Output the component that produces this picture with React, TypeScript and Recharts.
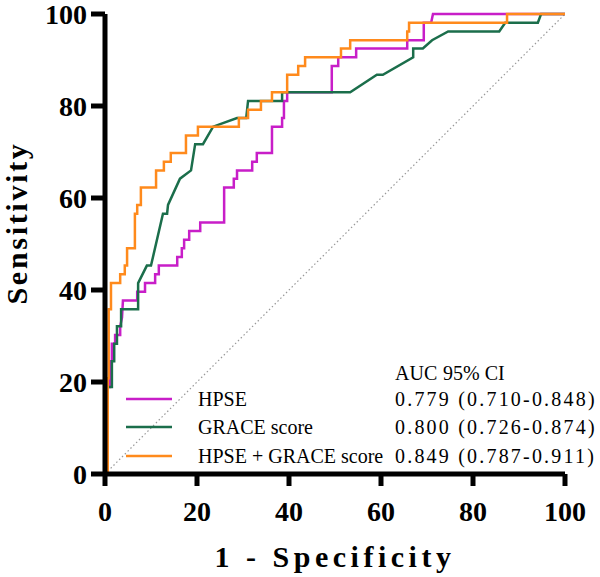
import { LineChart, Line, XAxis, YAxis, ReferenceLine } from "recharts";

const FONT = '"Liberation Serif", "Times New Roman", serif';

const xTicks = [0, 20, 40, 60, 80, 100];
const yTicks = [0, 20, 40, 60, 80, 100];

// ROC step points: [1 - specificity, sensitivity]
const hpsePts: [number, number][] = [
  [0, 0], [0, 13.2], [0.5, 13.2], [0.5, 18.9], [1.1, 18.9], [1.1, 24.5], [1.5, 24.5],
  [1.5, 28.3], [2.2, 28.3], [2.2, 30.2], [3.3, 30.2], [3.3, 32.1], [3.7, 34.0], [3.9, 37.7],
  [7.0, 37.7], [7.0, 39.6], [8.7, 39.6], [8.7, 41.5], [10.9, 41.5], [10.9, 43.4], [11.7, 43.4],
  [11.7, 45.3], [15.7, 45.3], [15.7, 47.2], [16.7, 47.2], [16.7, 49.1], [17.2, 49.1], [17.2, 50.9],
  [18.3, 50.9], [18.3, 52.8], [20.7, 52.8], [20.7, 54.7], [25.9, 54.7], [25.9, 62.3], [28.0, 62.3],
  [28.0, 64.2], [28.7, 64.2], [28.7, 66.0], [32.0, 66.0], [32.0, 67.9], [33.0, 67.9], [33.0, 69.8],
  [36.3, 69.8], [36.3, 75.5], [38.5, 75.5], [38.5, 77.4], [38.9, 77.4], [38.9, 81.1], [39.6, 81.1],
  [39.6, 83.0], [49.3, 83.0], [49.3, 88.7], [50.7, 88.7], [50.7, 90.6], [54.6, 90.6], [54.6, 92.5],
  [65.7, 92.5], [65.7, 94.3], [69.3, 94.3], [69.3, 98.1], [70.9, 98.1], [71.3, 100], [100, 100],
];

const gracePts: [number, number][] = [
  [0, 0], [0, 9.4], [0.6, 9.4], [0.6, 18.9], [1.5, 18.9], [1.5, 24.5], [2.0, 24.5], [2.0, 28.3],
  [2.6, 28.3], [2.6, 32.1], [3.5, 32.1], [3.5, 35.8], [7.2, 35.8], [7.2, 41.5], [9.1, 45.3],
  [10.0, 45.3], [12.6, 56.6], [13.5, 56.6], [13.7, 58.5], [16.3, 64.2], [18.7, 66.0], [19.6, 71.7],
  [21.3, 71.7], [23.5, 75.5], [28.7, 77.4], [30.7, 77.4], [31.1, 81.1], [38.5, 81.1], [38.5, 83.0],
  [53.3, 83.0], [59.1, 86.8], [60.4, 86.8], [67.0, 90.6], [67.0, 92.5], [69.1, 92.5], [71.1, 94.3],
  [74.6, 96.2], [85.7, 96.2], [87.0, 98.1], [94.1, 98.1], [94.8, 100], [100, 100],
];

const comboPts: [number, number][] = [
  [0.6, 0], [0.6, 20.8], [0.8, 20.8], [0.8, 35.8], [1.3, 35.8], [1.3, 41.5], [3.3, 41.5], [3.3, 43.4],
  [4.3, 43.4], [4.3, 45.3], [4.8, 45.3], [4.8, 49.1], [6.5, 49.1], [6.5, 56.6], [7.0, 56.6],
  [7.0, 58.5], [7.8, 58.5], [7.8, 62.3], [11.1, 62.3], [11.1, 66.0], [12.8, 66.0], [12.8, 67.9],
  [14.3, 67.9], [14.3, 69.8], [17.6, 69.8], [17.6, 73.6], [20.2, 73.6], [20.2, 75.5], [29.1, 75.5],
  [29.1, 77.4], [31.1, 77.4], [31.1, 79.2], [33.9, 79.2], [33.9, 81.1], [36.3, 81.1], [36.3, 83.0],
  [39.6, 83.0], [39.6, 86.8], [42.0, 86.8], [42.0, 88.7], [43.5, 88.7], [43.5, 90.6], [51.3, 90.6],
  [51.3, 92.5], [53.3, 92.5], [53.3, 94.3], [65.7, 94.3], [65.7, 96.2], [66.1, 96.2], [66.1, 98.1],
  [87.4, 98.1], [87.4, 100], [100, 100],
];

const seriesNames = ["HPSE", "GRACE score", "HPSE + GRACE score"];
const aucText = ["0.779 (0.710-0.848)", "0.800 (0.726-0.874)", "0.849 (0.787-0.911)"];
const COLORS = ["#c81ec8", "#1b6e4b", "#ff8a1c"];

const toRows = (pts: [number, number][]) => pts.map(([x, y]) => ({ x, y }));

const tickStyle = { fontSize: 28, fontWeight: "bold", fill: "#000", fontFamily: FONT };
const axisStroke = { stroke: "#000", strokeWidth: 5 };

export default function App() {
  const rowY = [399, 427, 456];
  return (
    <div style={{ position: "absolute", left: 0, top: 0, width: 600, height: 577, background: "#fff" }}>
      <LineChart width={600} height={577} margin={{ top: 14, right: 35, bottom: 0, left: 0 }}>
        <XAxis dataKey="x" type="number" domain={[0, 100]} ticks={xTicks}
               axisLine={axisStroke} tickLine={axisStroke} tickSize={12} tickMargin={15}
               height={103} tick={tickStyle} interval={0} />
        <YAxis dataKey="y" type="number" domain={[0, 100]} ticks={yTicks}
               axisLine={axisStroke} tickLine={axisStroke} tickSize={14} tickMargin={4}
               width={105} tick={tickStyle} interval={0} />
        <ReferenceLine segment={[{ x: 0, y: 0 }, { x: 100, y: 100 }]} stroke="#999"
                       strokeWidth={1.2} strokeDasharray="1.5 2.5" ifOverflow="visible" />
        <Line data={toRows(hpsePts)} dataKey="y" type="linear" stroke={COLORS[0]} strokeWidth={2.5}
              dot={false} isAnimationActive={false} />
        <Line data={toRows(gracePts)} dataKey="y" type="linear" stroke={COLORS[1]} strokeWidth={2.5}
              dot={false} isAnimationActive={false} />
        <Line data={toRows(comboPts)} dataKey="y" type="linear" stroke={COLORS[2]} strokeWidth={2.5}
              dot={false} isAnimationActive={false} />
      </LineChart>
      <svg width={600} height={577} style={{ position: "absolute", left: 0, top: 0, pointerEvents: "none" }}>
        <text x={335} y={567} textAnchor="middle" fontFamily={FONT} fontSize={30} fontWeight="bold"
              letterSpacing={4.5}>1 - Specificity</text>
        <text transform="translate(27,223) rotate(-90)" textAnchor="middle" fontFamily={FONT}
              fontSize={30} fontWeight="bold" letterSpacing={2.7}>Sensitivity</text>
        <text x={395} y={380} fontFamily={FONT} fontSize={20}>AUC</text>
        <text x={443} y={380} fontFamily={FONT} fontSize={20}>95% CI</text>
        {seriesNames.map((name, i) => (
          <g key={name}>
            <line x1={126} x2={172} y1={rowY[i]} y2={rowY[i]} stroke={COLORS[i]} strokeWidth={2.5} />
            <text x={198} y={rowY[i] + 7} fontFamily={FONT} fontSize={20}>{name}</text>
            <text x={395} y={rowY[i] + 7} fontFamily={FONT} fontSize={20} letterSpacing={2.2}>{aucText[i]}</text>
          </g>
        ))}
      </svg>
    </div>
  );
}
